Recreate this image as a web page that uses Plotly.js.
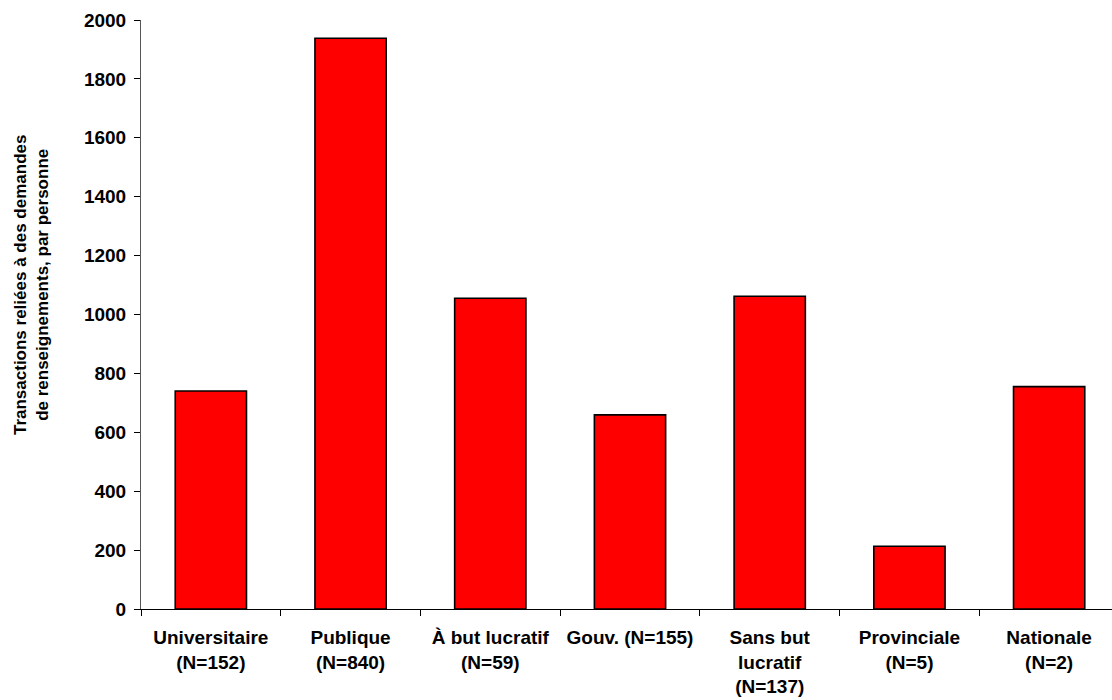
<!DOCTYPE html>
<html>
<head>
<meta charset="utf-8">
<script src="https://cdn.plot.ly/plotly-3.0.1.min.js"></script>
<style>html,body{margin:0;padding:0;overflow:hidden;background:#fff;}#chart{width:1120px;height:700px;}</style>
</head>
<body>
<div id="chart"></div>
<script>
const categories = ["Universitaire<br>(N=152)", "Publique<br>(N=840)", "À but lucratif<br>(N=59)", "Gouv. (N=155)", "Sans but<br>lucratif<br>(N=137)", "Provinciale<br>(N=5)", "Nationale<br>(N=2)"];
const values = [740, 1938, 1055, 659, 1062, 213, 755];
const yTickVals = [0, 200, 400, 600, 800, 1000, 1200, 1400, 1600, 1800, 2000];
const yTitle = "Transactions reliées à des demandes<br>de renseignements, par personne";

const font = {family: "Liberation Sans, Arial, sans-serif", color: "#000", weight: "bold"};

const traces = [{
  type: "bar",
  x: categories,
  y: values,
  width: 0.51,
  marker: {color: "#ff0000", line: {color: "#000", width: 1.6}},
  hoverinfo: "x+y"
}];

const layout = {
  width: 1120,
  height: 700,
  margin: {l: 141, r: 1, t: 19.5, b: 90.5},
  paper_bgcolor: "#fff",
  plot_bgcolor: "#fff",
  showlegend: false,
  font: Object.assign({size: 18}, font),
  xaxis: {
    type: "category",
    range: [-0.5, categories.length - 0.5],
    showline: true, linecolor: "#000", linewidth: 1,
    ticks: "outside", ticklen: 6, tickcolor: "#000", tickwidth: 1,
    tickson: "boundaries",
    showgrid: false, zeroline: false,
    tickfont: Object.assign({size: 19}, font),
    ticklabelstandoff: 11,
    fixedrange: true
  },
  xaxis2: {
    overlaying: "x", anchor: "y",
    type: "linear",
    range: [-0.5, categories.length - 0.5],
    tickmode: "array",
    tickvals: categories.map((_, i) => i - 0.5).concat([categories.length - 0.5]),
    ticks: "inside", ticklen: 6, tickcolor: "#000", tickwidth: 1,
    showticklabels: false, showgrid: false, zeroline: false, showline: false
  },
  yaxis: {
    range: [0, 2000],
    tickmode: "array", tickvals: yTickVals,
    showline: true, linecolor: "#555", linewidth: 1,
    ticks: "outside", ticklen: 6, tickcolor: "#000", tickwidth: 1,
    showgrid: false, zeroline: false,
    tickfont: Object.assign({size: 19}, font),
    ticklabelstandoff: 4,
    fixedrange: true
  },
  yaxis2: {
    overlaying: "y", anchor: "x",
    range: [0, 2000],
    tickmode: "array", tickvals: yTickVals,
    ticks: "inside", ticklen: 6, tickcolor: "#000", tickwidth: 1,
    showticklabels: false, showgrid: false, zeroline: false, showline: false
  },
  annotations: [{
    text: yTitle,
    xref: "paper", yref: "paper",
    x: (31 - 141) / 978, y: (700 - 285 - 90.5) / 590,
    xanchor: "center", yanchor: "middle",
    textangle: -90, showarrow: false,
    font: Object.assign({size: 17}, font)
  }]
};

Plotly.newPlot("chart", traces, layout, {displayModeBar: false, staticPlot: true});
</script>
</body>
</html>
